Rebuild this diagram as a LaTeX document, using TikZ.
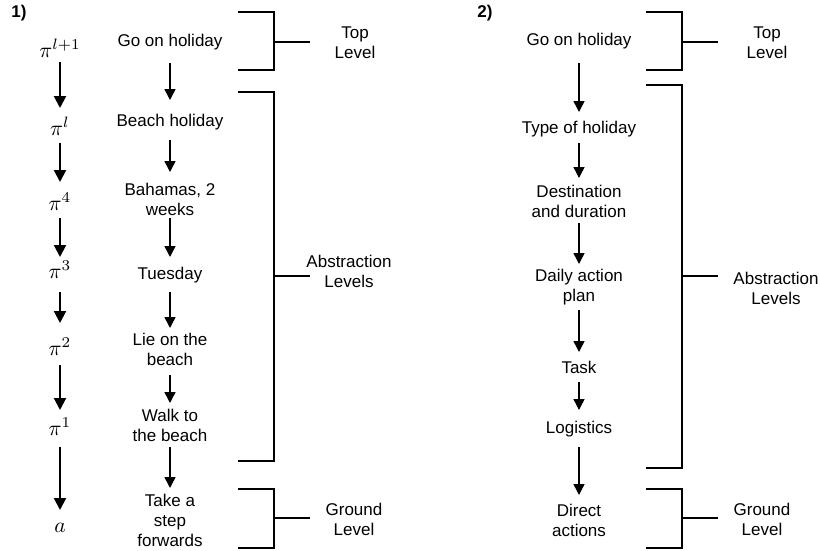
\documentclass[tikz,border=0pt]{standalone}
\usepackage{graphicx}
\usepackage[no-math]{fontspec}
\setmainfont{Liberation Sans}
\usetikzlibrary{arrows.meta}
\newcommand{\pimath}[1]{\scalebox{2.15}{$#1$}}
\begin{document}
\begin{tikzpicture}[x=1pt,y=-1pt,
 txt/.style={font=\fontsize{17}{20}\selectfont, align=center, inner sep=0pt},
 pil/.style={anchor=base, inner sep=0pt},
 lbl/.style={font=\fontsize{17}{20}\selectfont\bfseries, inner sep=0pt},
 arr/.style={line width=1.5pt, -{Triangle[length=11pt,width=11pt]}},
 parr/.style={line width=2pt, -{Triangle[length=12pt,width=12pt]}},
 brk/.style={line width=2.6pt},
]
\useasboundingbox (0,0) rectangle (820,550);

% ---------- panel 1 ----------
\node[lbl] (n1) at (19,13) {1)};
% pi column
\node[pil] (p6) at (60,57) {\pimath{\pi^{l+1}}};
\node[pil] (p5) at (60,135) {\pimath{\pi^{l}}};
\node[pil] (p4) at (60,210) {\pimath{\pi^{4}}};
\node[pil] (p3) at (60,278) {\pimath{\pi^{3}}};
\node[pil] (p2) at (60,355) {\pimath{\pi^{2}}};
\node[pil] (p1) at (60,435) {\pimath{\pi^{1}}};
\node[pil] (p0) at (60,532) {\pimath{a}};
\draw[parr] ([yshift=-5pt]p6.base) -- ([yshift=27pt]p5.base);
\draw[parr] ([yshift=-8pt]p5.base) -- ([yshift=28pt]p4.base);
\draw[parr] ([yshift=-8pt]p4.base) -- ([yshift=21pt]p3.base);
\draw[parr] ([yshift=-14pt]p3.base) -- ([yshift=32pt]p2.base);
\draw[parr] ([yshift=-10pt]p2.base) -- ([yshift=25pt]p1.base);
\draw[parr] ([yshift=-12pt]p1.base) -- ([yshift=22pt]p0.base);

% text column
\node[txt] (a1) at (170,42) {Go on holiday};
\node[txt] (a2) at (170,122) {Beach holiday};
\node[txt] (a3) at (170,199) {Bahamas, 2\\weeks};
\node[txt] (a4) at (170,275) {Tuesday};
\node[txt] (a5) at (170,349) {Lie on the\\beach};
\node[txt] (a6) at (170,425) {Walk to\\the beach};
\node[txt] (a7) at (170,520) {Take a\\step\\forwards};
\draw[arr] ([yshift=-21pt]a1.center) -- ([yshift=22pt]a2.center);
\draw[arr] ([yshift=-18pt]a2.center) -- ([yshift=27pt]a3.center);
\draw[arr] ([yshift=-19pt]a3.center) -- ([yshift=18pt]a4.center);
\draw[arr] ([yshift=-17pt]a4.center) -- ([yshift=21pt]a5.center);
\draw[arr] ([yshift=-26pt]a5.center) -- ([yshift=22pt]a6.center);
\draw[arr] ([yshift=-22pt]a6.center) -- ([yshift=32pt]a7.center);

% brackets
\coordinate (t1) at (310,42);
\coordinate (m1) at (310,276);
\coordinate (g1) at (310,518);
\draw[brk] (238,12) -- (274,12) -- (274,70) -- (238,70);
\draw[brk] (274,42) -- (t1);
\draw[brk] (238,92) -- (274,92) -- (274,461) -- (238,461);
\draw[brk] (274,276) -- (m1);
\draw[brk] (238,489) -- (274,489) -- (274,548) -- (238,548);
\draw[brk] (274,518) -- (g1);
\node[txt] (l1) at (355,43) {Top\\Level};
\node[txt] (l2) at (349,271) {Abstraction\\Levels};
\node[txt] (l3) at (354,519) {Ground\\Level};

% ---------- panel 2 ----------
\node[lbl] (n2) at (485,13) {2)};
\node[txt] (b1) at (579,41) {Go on holiday};
\node[txt] (b2) at (579,129) {Type of holiday};
\node[txt] (b3) at (579,201) {Destination\\and duration};
\node[txt] (b4) at (579,287) {Daily action\\plan};
\node[txt] (b5) at (579,367) {Task};
\node[txt] (b6) at (579,429) {Logistics};
\node[txt] (b7) at (579,520) {Direct\\actions};
\draw[arr] ([yshift=-22pt]b1.center) -- ([yshift=17pt]b2.center);
\draw[arr] ([yshift=-14pt]b2.center) -- ([yshift=23pt]b3.center);
\draw[arr] ([yshift=-22pt]b3.center) -- ([yshift=23pt]b4.center);
\draw[arr] ([yshift=-23pt]b4.center) -- ([yshift=15pt]b5.center);
\draw[arr] ([yshift=-15pt]b5.center) -- ([yshift=19pt]b6.center);
\draw[arr] ([yshift=-18pt]b6.center) -- ([yshift=25pt]b7.center);

\coordinate (t2) at (718,42);
\coordinate (m2) at (718,276);
\coordinate (g2) at (718,518);
\draw[brk] (646,12) -- (682,12) -- (682,70) -- (646,70);
\draw[brk] (682,42) -- (t2);
\draw[brk] (646,85) -- (682,85) -- (682,468) -- (646,468);
\draw[brk] (682,276) -- (m2);
\draw[brk] (646,489) -- (682,489) -- (682,548) -- (646,548);
\draw[brk] (682,518) -- (g2);
\node[txt] (r1) at (767,43) {Top\\Level};
\node[txt] (r2) at (776,288) {Abstraction\\Levels};
\node[txt] (r3) at (762,519) {Ground\\Level};
\end{tikzpicture}
\end{document}
